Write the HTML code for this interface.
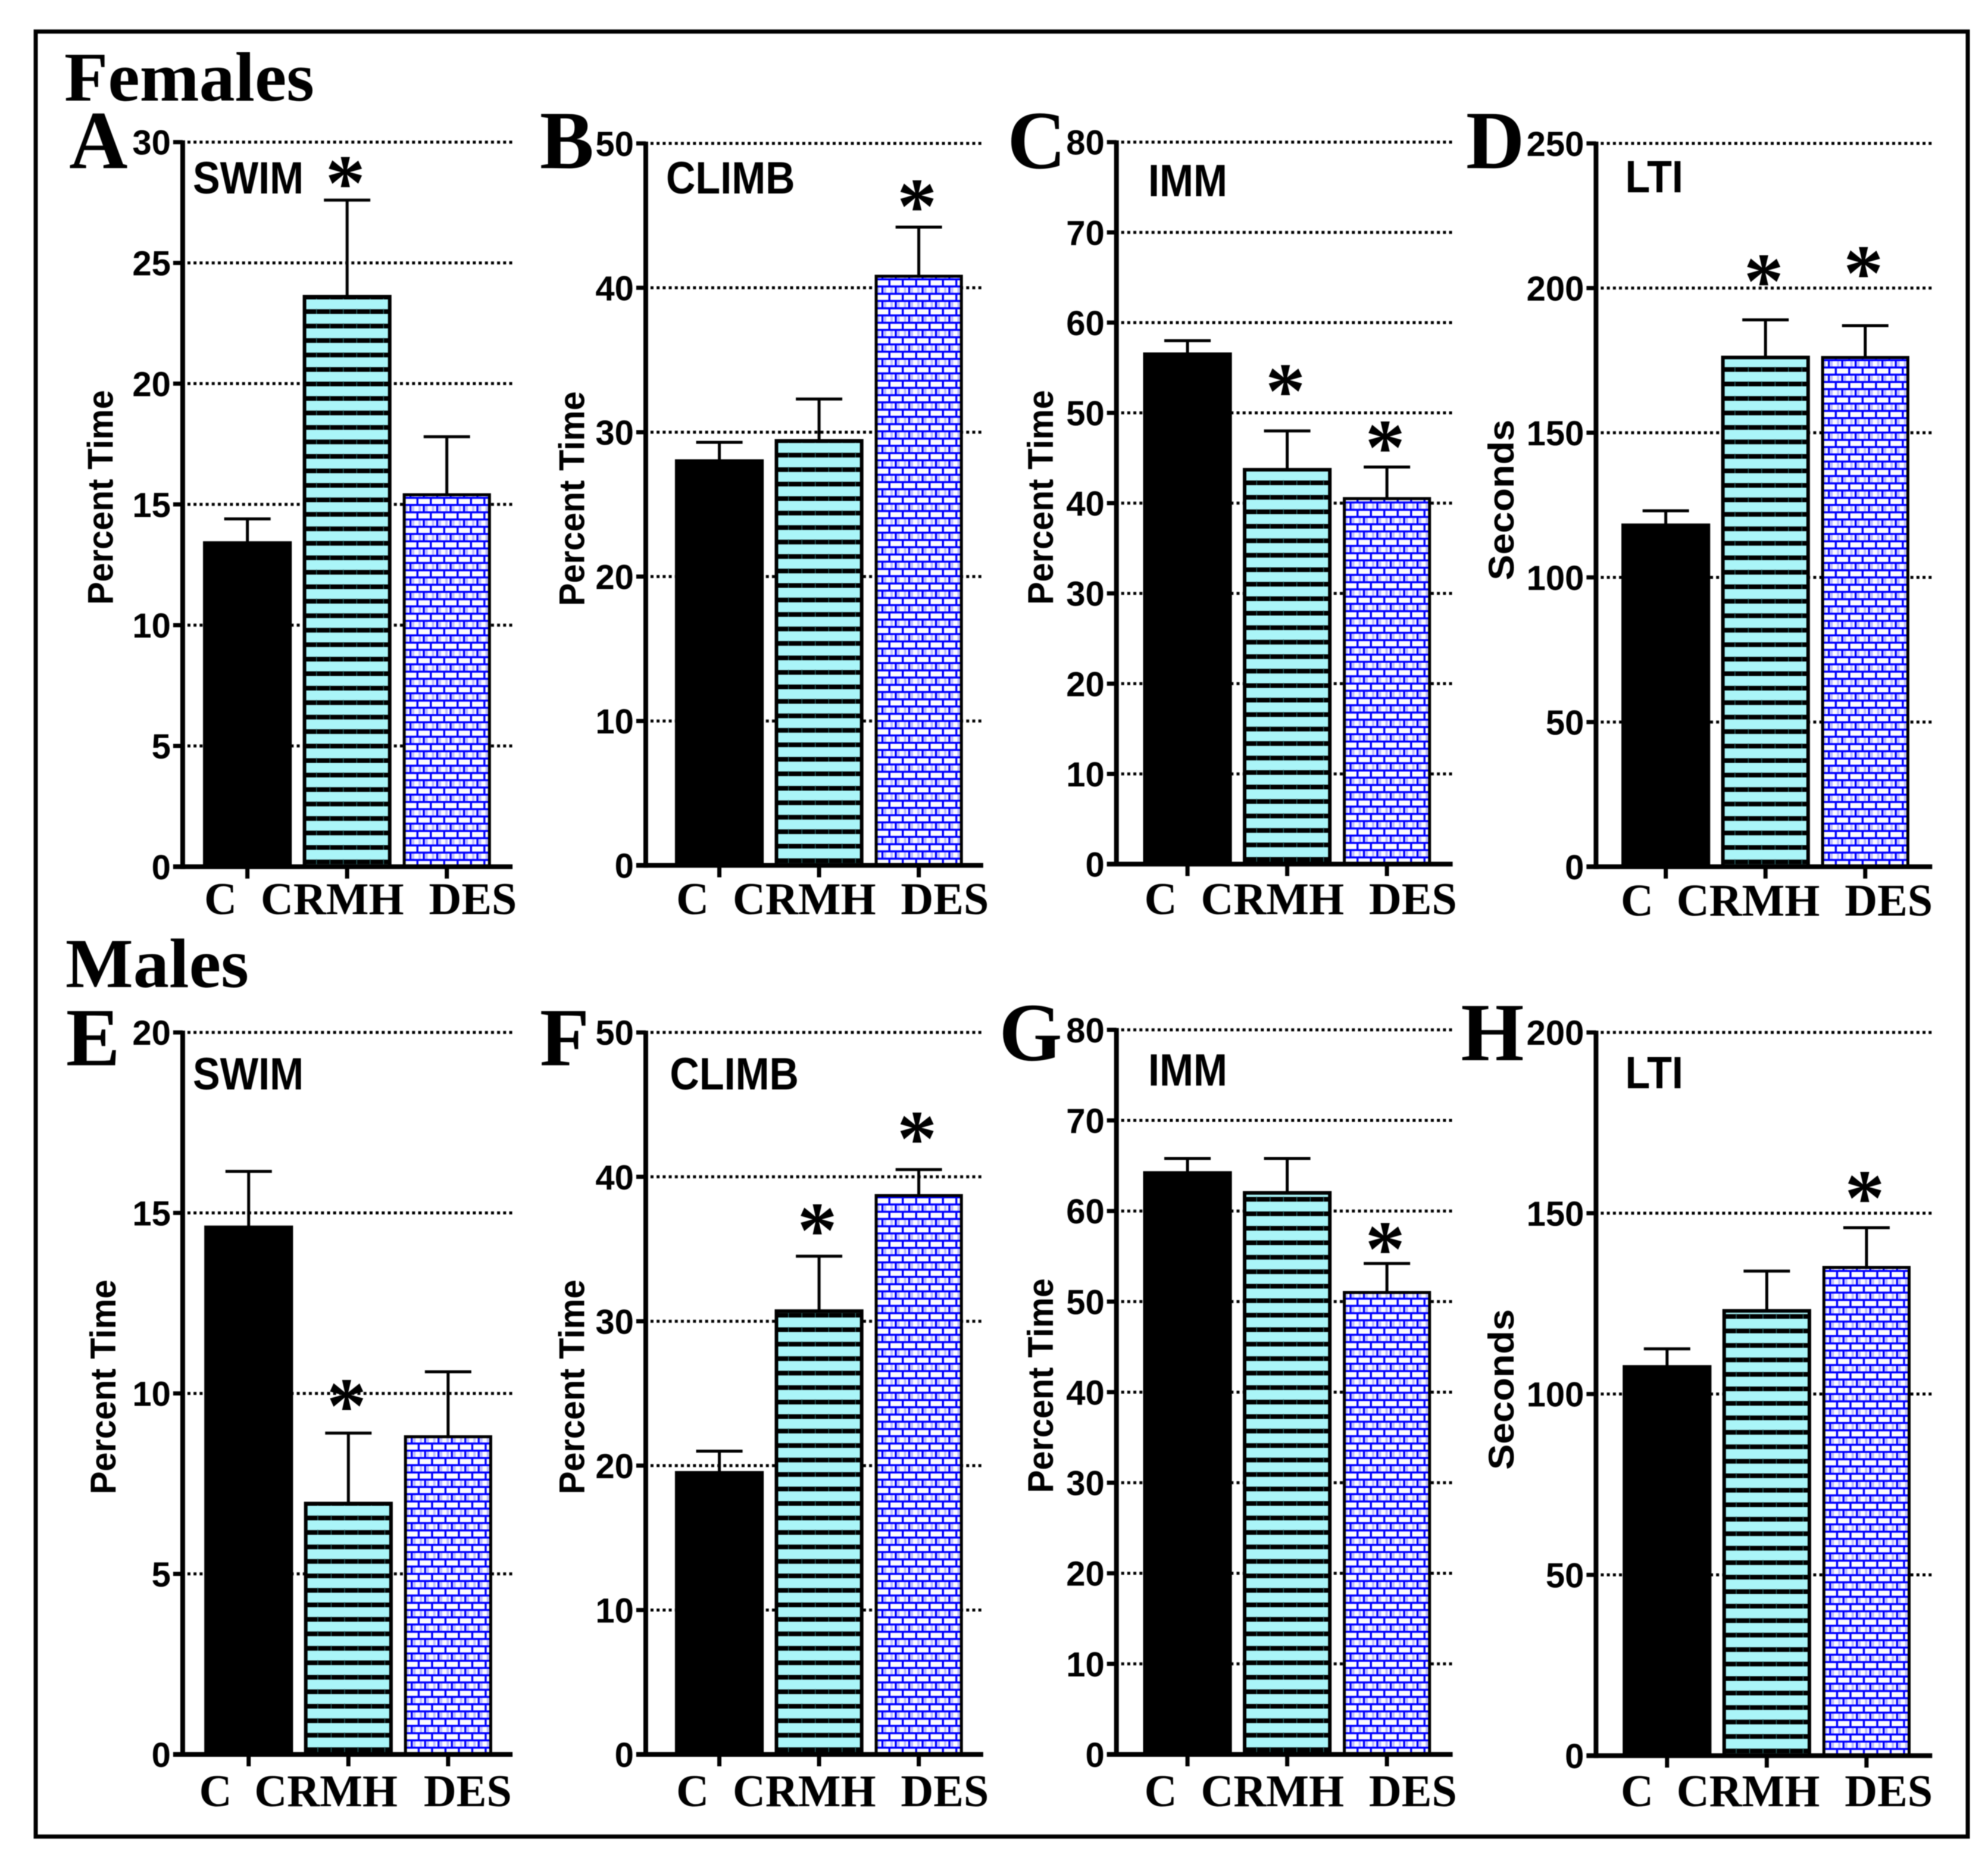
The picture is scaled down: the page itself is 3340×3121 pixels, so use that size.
<!DOCTYPE html>
<html>
<head>
<meta charset="utf-8">
<title>Forced swim test results: females and males</title>
<style>
html,body{margin:0;padding:0;background:#fff;width:3340px;height:3121px;overflow:hidden}
svg{display:block;position:absolute;left:0;top:0;filter:blur(0.7px)}
text{font-weight:bold;fill:#000}
</style>
</head>
<body>
<svg id="figure" xmlns="http://www.w3.org/2000/svg" width="3340" height="3121" viewBox="0 0 3340 3121">
  <defs id="defs"></defs>
  <rect x="0" y="0" width="3340" height="3121" fill="#fff"/>
  <rect x="60" y="53" width="3246" height="3032" fill="none" stroke="#000" stroke-width="7"/>
  <text x="108" y="169" font-family="'Liberation Serif',serif" font-size="118" textLength="420" lengthAdjust="spacingAndGlyphs">Females</text>
  <text x="110" y="1658" font-family="'Liberation Serif',serif" font-size="118" textLength="308" lengthAdjust="spacingAndGlyphs">Males</text>
</svg>
<script>
// Shared categories
const categories = ['C', 'CRMH', 'DES'];

// Female panels: means, upper error lengths, y-axis ticks
const swimFemaleMeans = [13.4, 23.6, 15.4];
const swimFemaleErrors = [1.0, 4.0, 2.4];
const swimFemaleTicks = [0, 5, 10, 15, 20, 25, 30];
const climbFemaleMeans = [28.0, 29.4, 40.8];
const climbFemaleErrors = [1.3, 2.9, 3.4];
const climbFemaleTicks = [0, 10, 20, 30, 40, 50];
const immFemaleMeans = [56.5, 43.7, 40.5];
const immFemaleErrors = [1.5, 4.3, 3.5];
const immFemaleTicks = [0, 10, 20, 30, 40, 50, 60, 70, 80];
const ltiFemaleMeans = [118, 176, 176];
const ltiFemaleErrors = [5, 13, 11];
const ltiFemaleTicks = [0, 50, 100, 150, 200, 250];

// Male panels
const swimMaleMeans = [14.6, 6.95, 8.8];
const swimMaleErrors = [1.55, 1.95, 1.8];
const swimMaleTicks = [0, 5, 10, 15, 20];
const climbMaleMeans = [19.5, 30.7, 38.7];
const climbMaleErrors = [1.5, 3.8, 1.8];
const climbMaleTicks = [0, 10, 20, 30, 40, 50];
const immMaleMeans = [64.2, 62.0, 51.0];
const immMaleErrors = [1.6, 3.8, 3.2];
const immMaleTicks = [0, 10, 20, 30, 40, 50, 60, 70, 80];
const ltiMaleMeans = [107.5, 123, 135];
const ltiMaleErrors = [5, 11, 11];
const ltiMaleTicks = [0, 50, 100, 150, 200];

// Which bars carry a significance asterisk
const swimFemaleStars = [false, true, false];
const climbFemaleStars = [false, false, true];
const immFemaleStars = [false, true, true];
const ltiFemaleStars = [false, true, true];
const swimMaleStars = [false, true, false];
const climbMaleStars = [false, true, true];
const immMaleStars = [false, false, true];
const ltiMaleStars = [false, false, true];

// Layout of each panel, measured on a 1567-wide grid and scaled by S
const S = 2.1315;
const SVGNS = 'http://www.w3.org/2000/svg';
const svg = document.getElementById('figure');
const defs = document.getElementById('defs');

const panels = [
  {id:'a', letter:'A', title:'SWIM', yTitle:'Percent Time', means:swimFemaleMeans, errors:swimFemaleErrors, ticks:swimFemaleTicks, stars:swimFemaleStars,
   axisX:144, y0:683, yTop:112, gridEnd:404, barX:160, letterPos:[54.5,132.5], titlePos:[152,152.5], yTitlePos:[89,392], catStarts:[161,205.5,338], catY:720.5, starGap:[0,22,0]},
  {id:'b', letter:'B', title:'CLIMB', yTitle:'Percent Time', means:climbFemaleMeans, errors:climbFemaleErrors, ticks:climbFemaleTicks, stars:climbFemaleStars,
   axisX:509, y0:682, yTop:113, gridEnd:775, barX:532, letterPos:[425.5,132.5], titlePos:[525,152.5], yTitlePos:[460.5,393], catStarts:[533,577.5,710], catY:720.5, starGap:[0,0,25]},
  {id:'c', letter:'C', title:'IMM', yTitle:'Percent Time', means:immFemaleMeans, errors:immFemaleErrors, ticks:immFemaleTicks, stars:immFemaleStars,
   axisX:880, y0:681, yTop:112, gridEnd:1145, barX:901, letterPos:[794,132.5], titlePos:[905,154.5], yTitlePos:[830,392], catStarts:[902,946.5,1079], catY:720.5, starGap:[0,40,24]},
  {id:'d', letter:'D', title:'LTI', yTitle:'Seconds', means:ltiFemaleMeans, errors:ltiFemaleErrors, ticks:ltiFemaleTicks, stars:ltiFemaleStars,
   axisX:1258, y0:683, yTop:113, gridEnd:1523, barX:1278, letterPos:[1155.5,132.5], titlePos:[1281,151.5], yTitlePos:[1193,394], catStarts:[1277.5,1321.5,1454], catY:721.5, starGap:[0,39,50]},
  {id:'e', letter:'E', title:'SWIM', yTitle:'Percent Time', means:swimMaleMeans, errors:swimMaleErrors, ticks:swimMaleTicks, stars:swimMaleStars,
   axisX:144, y0:1382.6, yTop:813.6, gridEnd:404, barX:161, letterPos:[52,839.5], titlePos:[152,858.5], yTitlePos:[91,1093], catStarts:[157,200.5,334], catY:1423.5, starGap:[0,30,0]},
  {id:'f', letter:'F', title:'CLIMB', yTitle:'Percent Time', means:climbMaleMeans, errors:climbMaleErrors, ticks:climbMaleTicks, stars:climbMaleStars,
   axisX:509, y0:1382.6, yTop:813.6, gridEnd:775, barX:532, letterPos:[425.5,839.5], titlePos:[528,858.5], yTitlePos:[460.5,1093], catStarts:[533,577.5,710], catY:1423.5, starGap:[0,29,33]},
  {id:'g', letter:'G', title:'IMM', yTitle:'Percent Time', means:immMaleMeans, errors:immMaleErrors, ticks:immMaleTicks, stars:immMaleStars,
   axisX:880, y0:1382.6, yTop:811.6, gridEnd:1145, barX:901, letterPos:[787.5,835.5], titlePos:[905,855.5], yTitlePos:[830,1092], catStarts:[902,946.5,1079], catY:1423.5, starGap:[0,0,20]},
  {id:'h', letter:'H', title:'LTI', yTitle:'Seconds', means:ltiMaleMeans, errors:ltiMaleErrors, ticks:ltiMaleTicks, stars:ltiMaleStars,
   axisX:1258, y0:1383.6, yTop:813.6, gridEnd:1523, barX:1279, letterPos:[1151.5,835.5], titlePos:[1281,857.5], yTitlePos:[1193,1095], catStarts:[1277.5,1321.5,1454], catY:1423.5, starGap:[0,0,32]}
];

const BAR_W = 70;
const BAR_STEP = 78.6;
const SERIF = "'Liberation Serif',serif";
const SANS = "'Liberation Sans',sans-serif";

function svgEl(tag, parent) {
  const el = document.createElementNS(SVGNS, tag);
  parent.appendChild(el);
  return el;
}
function setAttrs(el, attrs) {
  for (const k in attrs) el.setAttribute(k, attrs[k]);
}
function line(parent, x1, y1, x2, y2, width, extra) {
  const el = svgEl('line', parent);
  setAttrs(el, {x1:x1, y1:y1, x2:x2, y2:y2, stroke:'#000', 'stroke-width':width});
  if (extra) setAttrs(el, extra);
  return el;
}
function label(parent, str, x, y, size, family, sx, anchor, rotate) {
  const el = svgEl('text', parent);
  el.textContent = str;
  const rot = rotate ? ' rotate(' + rotate + ')' : '';
  setAttrs(el, {transform:'translate(' + x + ',' + y + ')' + rot + ' scale(' + sx + ',1)', 'font-size':size, 'font-family':family, 'text-anchor':anchor});
  return el;
}

function makePatterns(p) {
  const y0 = p.y0 * S;
  // horizontal stripes (CRMH)
  const stripe = svgEl('pattern', defs);
  setAttrs(stripe, {id:'stripes-' + p.id, patternUnits:'userSpaceOnUse', width:22.5, height:24.33, patternTransform:'translate(' + ((p.barX + BAR_STEP) * S) + ',' + (y0 - 4) + ')'});
  const sBg = svgEl('rect', stripe);
  setAttrs(sBg, {x:0, y:0, width:22.5, height:24.33, fill:'#aaf5f8'});
  const sBand = svgEl('rect', stripe);
  setAttrs(sBand, {x:0, y:16.5, width:22.5, height:7.83, fill:'#000'});
  const sTick = svgEl('rect', stripe);
  setAttrs(sTick, {x:0, y:16, width:1.5, height:8.83, fill:'#245e60'});

  // brick pattern (DES)
  const brick = svgEl('pattern', defs);
  setAttrs(brick, {id:'bricks-' + p.id, patternUnits:'userSpaceOnUse', width:22.5, height:24.33, patternTransform:'translate(' + ((p.barX + 2 * BAR_STEP) * S + 1) + ',' + (y0 - 13) + ')'});
  const shapes = [
    {x:0, y:0, width:22.5, height:24.33, fill:'#fbfbff'},
    {x:3.5, y:15, width:4, height:9.5, fill:'#bdbdff'},
    {x:15, y:15, width:4, height:9.5, fill:'#bdbdff'},
    {x:0, y:0, width:22.5, height:3.4, fill:'#0000ff'},
    {x:0, y:12, width:22.5, height:3.4, fill:'#0000ff'},
    {x:0, y:3, width:3.4, height:9.5, fill:'#0000ff'},
    {x:10.8, y:15, width:3.4, height:9.5, fill:'#0000ff'}
  ];
  for (const s of shapes) {
    const r = svgEl('rect', brick);
    setAttrs(r, s);
  }
}

function drawPanel(p) {
  const g = svgEl('g', svg);
  
  
  makePatterns(p);

  const axisX = p.axisX * S, y0 = p.y0 * S, yTop = p.yTop * S, gridEnd = p.gridEnd * S;
  const maxTick = p.ticks[p.ticks.length - 1];
  const yScale = v => y0 - (v / maxTick) * (y0 - yTop);
  const barLeft = i => (p.barX + i * BAR_STEP) * S;
  const barW = BAR_W * S;
  const barCenter = i => barLeft(i) + barW / 2;

  // gridlines and y ticks
  p.ticks.forEach(t => {
    const y = yScale(t);
    if (t !== 0) {
      const grid = line(g, axisX + 8, y, gridEnd, y, 5, {'stroke-dasharray':'5 5.2'});
      
      
    }
    const tick = line(g, axisX - 16, y, axisX, y, 7);
    
    
    const tl = label(g, String(t), axisX - 20, y + 21, 58, SANS, 1, 'end');
    
    
  });

  // bars and error bars
  categories.forEach((cat, i) => {
    const top = yScale(p.means[i]);
    const errTop = yScale(p.means[i] + p.errors[i]);
    const cx = barCenter(i);
    const eb = line(g, cx, errTop, cx, top, 5);
    
    
    const cap = line(g, cx - 39, errTop, cx + 39, errTop, 5);
    
    

    const fill = i === 0 ? '#000' : (i === 1 ? 'url(#stripes-' + p.id + ')' : 'url(#bricks-' + p.id + ')');
    const bar = svgEl('rect', g);
    setAttrs(bar, {x:barLeft(i) + 3, y:top, width:barW - 6, height:y0 - top, fill:fill, stroke:'#000', 'stroke-width':i === 2 ? 5 : 6});
    
    

    if (p.stars[i]) {
      const sy = errTop - p.starGap[i] * S;
      const star = label(g, '*', cx - 3, sy + 63, 134, SERIF, 1, 'middle');
      
      
    }

    const xt = line(g, cx, y0, cx, y0 + 20, 7);
    
    
    const cl = label(g, cat, p.catStarts[i] * S, p.catY * S, 76, SERIF, 1, 'start');
    
    
  });

  // axes
  const yAxis = line(g, axisX, yTop - 3, axisX, y0 + 4, 8);
  
  
  const xAxis = line(g, axisX - 16, y0, gridEnd, y0, 8);
  
  

  // titles
  const pl = label(g, p.letter, p.letterPos[0] * S, p.letterPos[1] * S, 139, SERIF, 0.98, 'start');
  
  
  const pt = label(g, p.title, p.titlePos[0] * S, p.titlePos[1] * S, 76, SANS, 0.9, 'start');
  
  
  const yt = label(g, p.yTitle, p.yTitlePos[0] * S, p.yTitlePos[1] * S, 60, SANS, p.yTitle === 'Seconds' ? 1.08 : 0.96, 'middle', -90);
  
  
}

panels.forEach(drawPanel);
</script>
</body>
</html>
